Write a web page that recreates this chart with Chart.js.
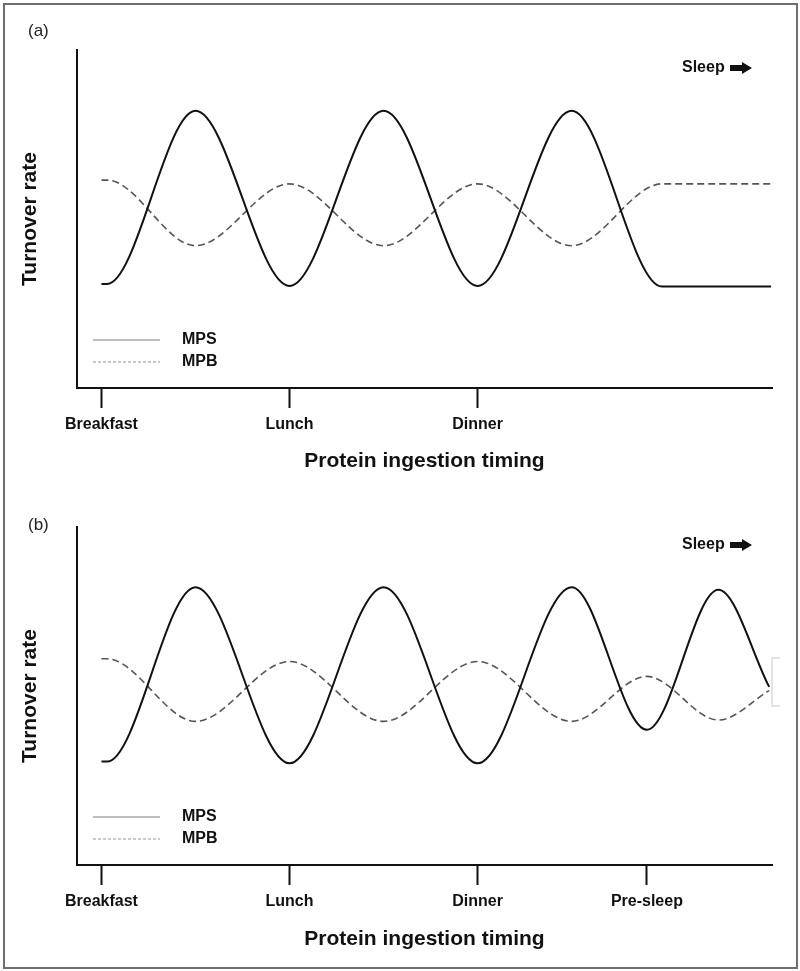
<!DOCTYPE html>
<html>
<head>
<meta charset="utf-8">
<script src="https://cdn.jsdelivr.net/npm/chart.js@4"></script>
<style>
  body { margin: 0; background: #fff; }
  #frame { position: relative; width: 800px; height: 971px; }
  #border { position: absolute; left: 3px; top: 3px; width: 791px; height: 962px; border: 2px solid #6e6e6e; }
  canvas { position: absolute; left: 0; }
</style>
</head>
<body>
<div id="frame">
  <div id="border"></div>
  <canvas id="panelA" width="800" height="480" style="top:0"></canvas>
  <canvas id="panelB" width="800" height="491" style="top:480px"></canvas>
</div>
<script>
// time axis: 1 unit = gap between two meals (Breakfast = 0)
const timeMin = -0.13;
const timeMax = 3.565;

// panel (a) - three meals, then sleep
const mealsA = ['Breakfast', 'Lunch', 'Dinner'];
const mealTicksA = [0, 1, 2];
const timeA = [0, 0.03, 0.5, 1, 1.5, 2, 2.5, 2.98, 3.56];
const mpsA = [30.8, 30.8, 82, 30.2, 82, 30.2, 82, 30, 30];
const mpbA = [61.5, 61.5, 42.1, 60.4, 42.1, 60.4, 42.1, 60.4, 60.4];

// panel (b) - three meals + pre-sleep protein
const mealsB = ['Breakfast', 'Lunch', 'Dinner', 'Pre-sleep'];
const mealTicksB = [0, 1, 2, 2.9];
const timeB = [0, 0.03, 0.5, 1, 1.5, 2, 2.5, 2.9, 3.28, 3.55];
const mpsB = [30.6, 30.6, 82.2, 30.1, 82.2, 30.1, 82.2, 40, 81.4, 52.7];
const mpbB = [61, 61, 42.5, 60.2, 42.5, 60.2, 42.5, 55.8, 42.9, 51.6];

const FONT = '"Liberation Sans", Arial, Helvetica, sans-serif';
const INK = '#111';

function toPoints(xs, ys) {
    return xs.map((x, i) => ({ x: x, y: ys[i] }));
}

// panel letter, legend, "Sleep" arrow
function decorPlugin(letter, letterY, bracket) {
    return {
        id: 'decor',
        afterDraw(chart) {
            const { ctx, chartArea: a } = chart;
            ctx.save();
            ctx.textBaseline = 'middle';
            ctx.textAlign = 'left';

            ctx.fillStyle = '#222';
            ctx.font = '17px ' + FONT;
            ctx.fillText(letter, 28, letterY);

            // legend (lighter than the curves, like the original)
            ctx.font = 'bold 16px ' + FONT;
            chart.data.datasets.forEach((ds, i) => {
                const y = a.bottom - 48 + i * 22;
                ctx.beginPath();
                ctx.setLineDash(ds.legendDash);
                ctx.lineWidth = 1.5;
                ctx.strokeStyle = ds.legendColor;
                ctx.moveTo(a.left + 16, y);
                ctx.lineTo(a.left + 83, y);
                ctx.stroke();
                ctx.setLineDash([]);
                ctx.fillStyle = INK;
                ctx.fillText(ds.label, a.left + 105, y);
            });

            // Sleep ->
            const sy = a.top + 18;
            ctx.fillStyle = INK;
            ctx.fillText('Sleep', a.right - 90, sy);
            const ax = a.right - 42;
            ctx.beginPath();
            ctx.moveTo(ax, sy - 3);
            ctx.lineTo(ax + 12, sy - 3);
            ctx.lineTo(ax + 12, sy - 6);
            ctx.lineTo(ax + 22, sy);
            ctx.lineTo(ax + 12, sy + 6);
            ctx.lineTo(ax + 12, sy + 3);
            ctx.lineTo(ax, sy + 3);
            ctx.closePath();
            ctx.fill();

            if (bracket) {
                ctx.strokeStyle = '#dcdcdc';
                ctx.lineWidth = 1.5;
                ctx.beginPath();
                ctx.moveTo(a.right + 8, 178);
                ctx.lineTo(a.right, 178);
                ctx.lineTo(a.right, 226);
                ctx.lineTo(a.right + 8, 226);
                ctx.stroke();
            }
            ctx.restore();
        }
    };
}

function makePanel(id, cfg) {
    return new Chart(document.getElementById(id), {
        type: 'line',
        data: {
            datasets: [{
                label: 'MPS',
                data: toPoints(cfg.time, cfg.mps),
                borderColor: INK,
                borderWidth: 2,
                legendColor: '#a8a8a8',
                legendDash: []
            }, {
                label: 'MPB',
                data: toPoints(cfg.time, cfg.mpb),
                borderColor: '#555',
                borderWidth: 1.6,
                borderDash: [7, 4],
                legendColor: '#b8b8b8',
                legendDash: [3, 2]
            }]
        },
        options: {
            responsive: false,
            animation: false,
            events: [],
            layout: { padding: { top: cfg.top, right: 28, left: 0, bottom: 0 } },
            elements: {
                point: { radius: 0 },
                line: { cubicInterpolationMode: 'monotone', fill: false }
            },
            plugins: { legend: { display: false }, tooltip: { enabled: false } },
            scales: {
                x: {
                    type: 'linear',
                    min: timeMin,
                    max: timeMax,
                    afterBuildTicks: s => { s.ticks = cfg.ticks.map(v => ({ value: v })); },
                    afterFit: s => { s.height = cfg.xHeight; },
                    ticks: {
                        callback: (v, i) => cfg.meals[i],
                        autoSkip: false,
                        maxRotation: 0,
                        padding: 7,
                        color: INK,
                        font: { family: FONT, size: 16, weight: 'bold' }
                    },
                    grid: {
                        display: true,
                        drawOnChartArea: false,
                        drawTicks: true,
                        tickLength: 20,
                        tickWidth: 2,
                        tickColor: INK
                    },
                    border: { display: true, width: 2, color: INK },
                    title: {
                        display: true,
                        text: 'Protein ingestion timing',
                        color: INK,
                        font: { family: FONT, size: 21, weight: 'bold' },
                        padding: { top: 0, bottom: cfg.titlePad }
                    }
                },
                y: {
                    min: 0,
                    max: 100,
                    afterFit: s => { s.width = 77; },
                    ticks: { display: false },
                    grid: { display: false },
                    border: { display: true, width: 2, color: INK },
                    title: {
                        display: true,
                        text: 'Turnover rate',
                        color: INK,
                        font: { family: FONT, size: 21, weight: 'bold' },
                        padding: { top: 18, bottom: 0 }
                    }
                }
            }
        },
        plugins: [decorPlugin(cfg.letter, cfg.letterY, cfg.bracket)]
    });
}

makePanel('panelA', {
    time: timeA, mps: mpsA, mpb: mpbA, meals: mealsA, ticks: mealTicksA,
    top: 50, xHeight: 92, titlePad: 6, letter: '(a)', letterY: 31, bracket: false
});
makePanel('panelB', {
    time: timeB, mps: mpsB, mpb: mpbB, meals: mealsB, ticks: mealTicksB,
    top: 47, xHeight: 106, titlePad: 19, letter: '(b)', letterY: 45, bracket: true
});
</script>
</body>
</html>
